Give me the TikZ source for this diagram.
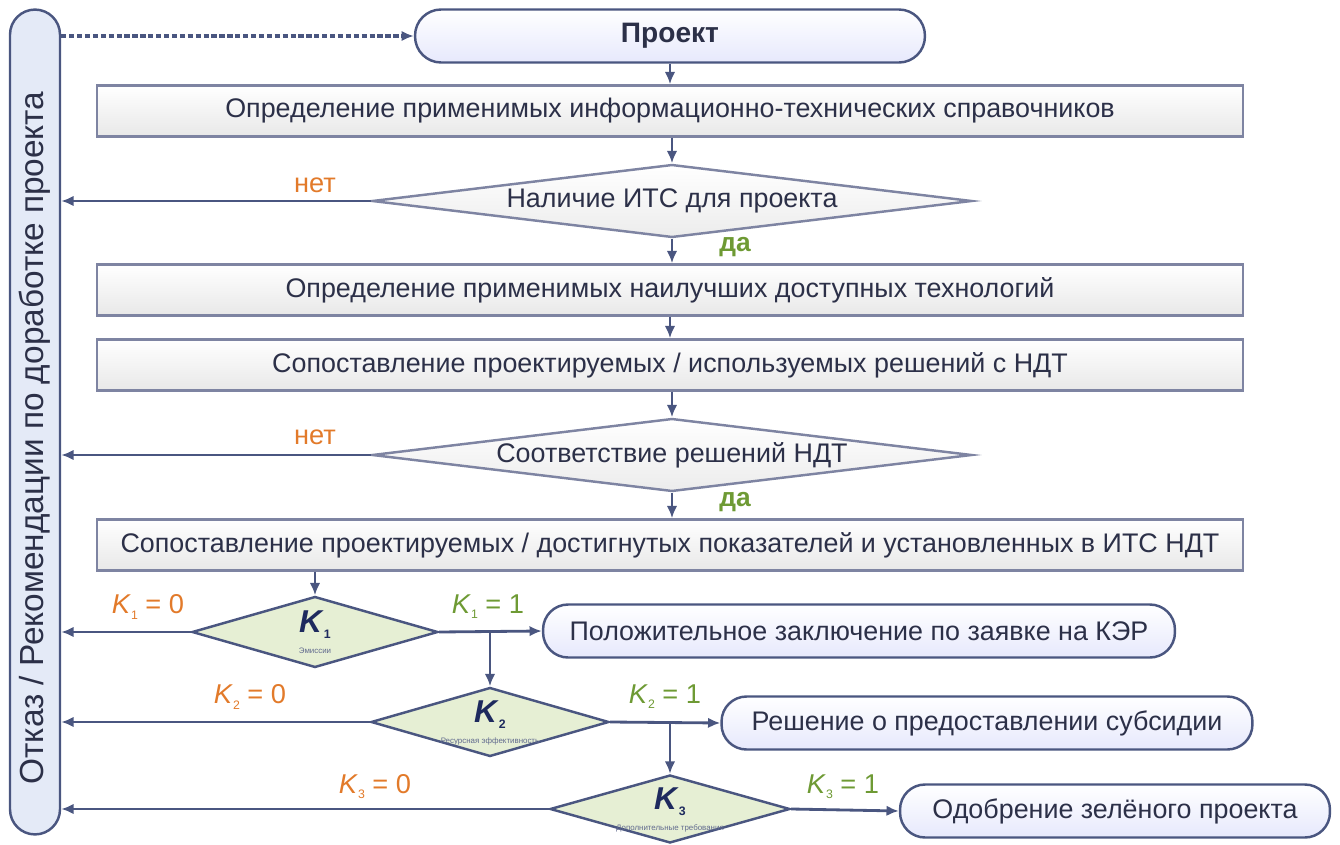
\documentclass[tikz,border=0pt]{standalone}
\usepackage{fontspec}
\setmainfont{Liberation Sans}
\usetikzlibrary{shapes.geometric, positioning, arrows.meta}

\definecolor{navy}{HTML}{1E2A5E}
\definecolor{edgeblue}{HTML}{4A5680}
\definecolor{boxline}{HTML}{7E84A2}
\definecolor{barfill}{HTML}{E4EAF7}
\definecolor{kfill}{HTML}{E6EFD4}
\definecolor{noorange}{HTML}{E27A2A}
\definecolor{yesgreen}{HTML}{6E9A34}
\definecolor{txt}{HTML}{2C3048}

\newcommand{\kidx}[1]{\textit{K}\raisebox{-0.35ex}{\scriptsize #1}}

\tikzset{
  stepbox/.style={draw=boxline, line width=1.4pt, top color=white, bottom color=gray!18,
    minimum width=22.92cm, minimum height=1.02cm, text=txt, font=\fontsize{15.3}{17}\selectfont},
  askbox/.style={diamond, aspect=8, draw=boxline, line width=1.4pt, top color=white, bottom color=gray!15,
    minimum width=12cm, minimum height=1.46cm, inner sep=0pt, text=txt, font=\fontsize{15.3}{17}\selectfont},
  kbox/.style={diamond, aspect=3, draw=edgeblue, line width=1.4pt, fill=kfill, inner sep=0pt, text=navy},
  endbox/.style={draw=edgeblue, line width=1.4pt, rounded corners=0.5cm, top color=white, bottom color=barfill!85!blue!40,
    minimum height=1.06cm, text=txt, font=\fontsize{15.3}{17}\selectfont},
  flow/.style={-{Latex[length=7pt,width=6pt]}, draw=edgeblue, line width=1.6pt},
  nolab/.style={text=noorange, font=\fontsize{15.5}{17}\selectfont},
  yeslab/.style={text=yesgreen, font=\bfseries\fontsize{15}{16}\selectfont},
}

\begin{document}
\begin{tikzpicture}[x=0.02cm, y=-0.02cm]
  \useasboundingbox (0,0) rectangle (1340,845);

  \node[draw=edgeblue, line width=1.4pt, fill=barfill, rounded corners=0.5cm,
    minimum width=1cm, minimum height=16.5cm] (bar) at (35,422) {};
  \node[rotate=90, text=txt, font=\fontsize{19}{20}\selectfont] (barlabel) at (35,438) {Отказ / Рекомендации по доработке проекта};

  \node[endbox, minimum width=10.2cm, rounded corners=0.52cm, font=\bfseries\fontsize{16}{18}\selectfont] (proj) at (670,36) {Проект};

  \node[stepbox] (itsdef) at (670,111) {Определение применимых информационно-технических справочников};
  \node[askbox] (itsask) at (672,201) {Наличие ИТС для проекта};
  \node[stepbox] (bat) at (670,290) {Определение применимых наилучших доступных технологий};
  \node[stepbox] (cmp) at (670,365) {Сопоставление проектируемых / используемых решений с НДТ};
  \node[askbox] (batask) at (672,455) {Соответствие решений НДТ};
  \node[stepbox] (kpi) at (670,545) {Сопоставление проектируемых / достигнутых показателей и установленных в ИТС НДТ};

  \node[kbox, minimum width=4.92cm, minimum height=1.42cm] (k1) at (315,632) {};
  \node[kbox, minimum width=4.76cm, minimum height=1.38cm] (k2) at (490,722) {};
  \node[kbox, minimum width=4.8cm, minimum height=1.36cm] (k3) at (670,809) {};
  \node[text=navy, font=\bfseries\fontsize{18}{18}\selectfont] at (315,625) {\kidx{1}};
  \node[text=navy, font=\bfseries\fontsize{18}{18}\selectfont] at (490,715) {\kidx{2}};
  \node[text=navy, font=\bfseries\fontsize{18}{18}\selectfont] at (670,802) {\kidx{3}};
  \node[text=navy!70, font=\fontsize{4.5}{5}\selectfont] at (315,651) {Эмиссии};
  \node[text=navy!70, font=\fontsize{4.5}{5}\selectfont] at (490,741) {Ресурсная эффективность};
  \node[text=navy!70, font=\fontsize{4.5}{5}\selectfont] at (670,828) {Дополнительные требования};

  \node[endbox, minimum width=12.64cm] (res1) at (859,631) {Положительное заключение по заявке на КЭР};
  \node[endbox, minimum width=10.62cm] (res2) at (987,723) {Решение о предоставлении субсидии};
  \node[endbox, minimum width=8.6cm] (res3) at (1115,811) {Одобрение зелёного проекта};

  \draw[flow, dashed, dash pattern=on 3pt off 1.5pt, line width=2pt] (proj.west -| bar.east) -- (proj.west);
  \draw[flow] (proj) -- (itsdef);
  \draw[flow] (itsdef.south -| itsask.north) -- (itsask.north);
  \draw[flow] (itsask.south) -- (itsask.south |- bat.north);
  \draw[flow] (bat.south -| cmp.north) -- (cmp.north);
  \draw[flow] (cmp.south -| batask.north) -- (batask.north);
  \draw[flow] (batask.south) -- (batask.south |- kpi.north);
  \draw[flow] (k1.north |- kpi.south) -- (k1.north);

  \draw[flow] (itsask.west) -- (itsask.west -| bar.east);
  \draw[flow] (batask.west) -- (batask.west -| bar.east);
  \draw[flow] (k1.west) -- (k1.west -| bar.east);
  \draw[flow] (k2.west) -- (k2.west -| bar.east);
  \draw[flow] (k3.west) -- (k3.west -| bar.east);

  \draw[flow] (k1.east) -- (res1.west);
  \draw[flow] (k2.north |- k1.east) -- (k2.north);
  \draw[flow] (k2.east) -- (res2.west);
  \draw[flow] (k3.north |- k2.east) -- (k3.north);
  \draw[flow] (k3.east) -- (res3.west);

  \node[nolab] at (315,185) {нет};
  \node[nolab] at (315,437) {нет};
  \node[yeslab] at (735,247) {да};
  \node[yeslab] at (735,502) {да};
  \node[nolab] at (148,607) {\kidx{1} = 0};
  \node[nolab] at (250,697) {\kidx{2} = 0};
  \node[nolab] at (375,787) {\kidx{3} = 0};
  \node[yeslab, font=\fontsize{15.5}{17}\selectfont] at (488,607) {\kidx{1} = 1};
  \node[yeslab, font=\fontsize{15.5}{17}\selectfont] at (665,697) {\kidx{2} = 1};
  \node[yeslab, font=\fontsize{15.5}{17}\selectfont] at (843,787) {\kidx{3} = 1};
\end{tikzpicture}
\end{document}
